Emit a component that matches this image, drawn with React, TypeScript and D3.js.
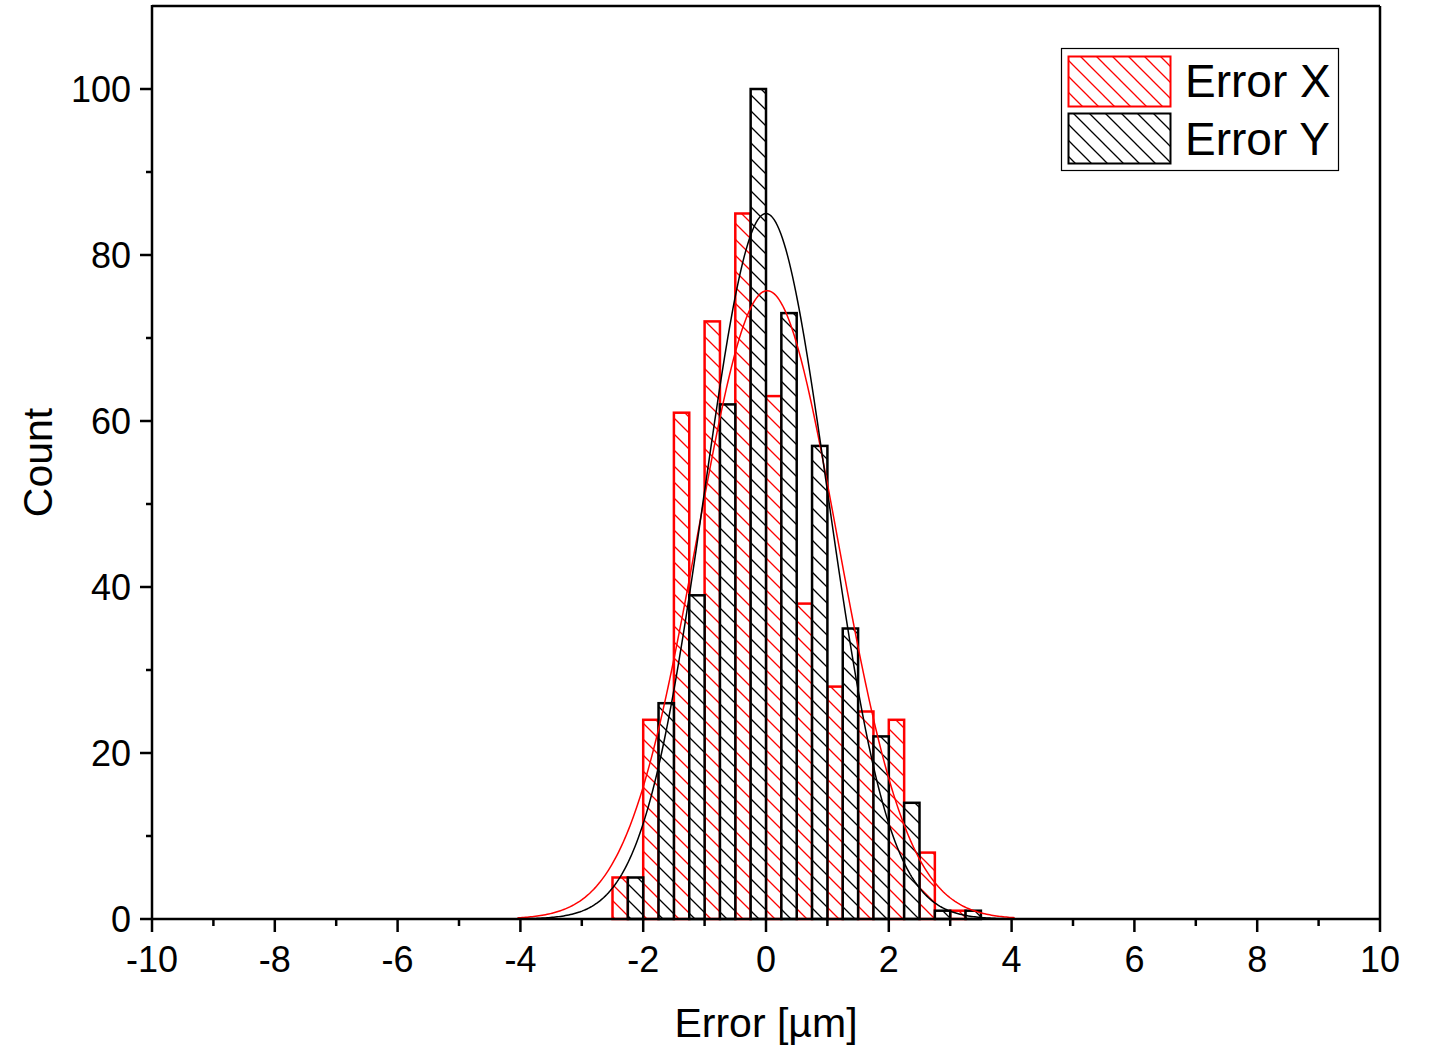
import React from "react";
import * as d3 from "d3";

// Bin centers (bin width 0.5 µm); red drawn in left half, black in right half
const binCenters = [-2.25, -1.75, -1.25, -0.75, -0.25, 0.25, 0.75, 1.25, 1.75, 2.25, 2.75, 3.25];
const countsX = [5, 24, 61, 72, 85, 63, 38, 28, 25, 24, 8, 1];
const countsY = [5, 26, 39, 62, 100, 73, 57, 35, 22, 14, 1, 1];
const binWidth = 0.5;

// Gaussian fit parameters
const fitX = { mean: 0.02, sigma: 1.144, amp: 75.7 };
const fitY = { mean: 0.0, sigma: 1.0, amp: 85 };
const fitRange = [-4.05, 4.05];

const xMajorTicks = [-10, -8, -6, -4, -2, 0, 2, 4, 6, 8, 10];
const xMinorTicks = [-9, -7, -5, -3, -1, 1, 3, 5, 7, 9];
const yMajorTicks = [0, 20, 40, 60, 80, 100];
const yMinorTicks = [10, 30, 50, 70, 90];
const legendLabels = ["Error X", "Error Y"];

const W = 1430;
const H = 1046;
const L = 152, R = 1380, T = 6, B = 919;
const FONT = "Arial, 'Liberation Sans', sans-serif";

export default function App() {
  const x = d3.scaleLinear().domain([-10, 10]).range([L, R]);
  const y = d3.scaleLinear().domain([0, 110]).range([B, T]);

  const gauss = (p: { mean: number; sigma: number; amp: number }) => {
    const n = 300;
    const pts: [number, number][] = [];
    for (let i = 0; i <= n; i++) {
      const v = fitRange[0] + ((fitRange[1] - fitRange[0]) * i) / n;
      pts.push([v, p.amp * Math.exp(-((v - p.mean) ** 2) / (2 * p.sigma * p.sigma))]);
    }
    return d3.line<[number, number]>().x((d) => x(d[0])).y((d) => y(d[1]))(pts) || "";
  };

  const hatchPath = "M0,0 L16,16 M-4,12 L4,20 M12,-4 L20,4";

  return (
    <svg width={W} height={H} style={{ position: "absolute", left: 0, top: 0, background: "#fff" }}>
      <defs>
        <pattern id="hatchRed" patternUnits="userSpaceOnUse" width={16} height={16}>
          <rect width={16} height={16} fill="#fff" />
          <path d={hatchPath} stroke="#ff0000" strokeWidth={1.3} />
        </pattern>
        <pattern id="hatchBlack" patternUnits="userSpaceOnUse" width={16} height={16}>
          <rect width={16} height={16} fill="#fff" />
          <path d={hatchPath} stroke="#000" strokeWidth={1.3} />
        </pattern>
      </defs>

      {/* Red bars */}
      {binCenters.map((c, i) => (
        <rect
          key={"r" + i}
          x={x(c - binWidth / 2)}
          y={y(countsX[i])}
          width={x(c) - x(c - binWidth / 2)}
          height={y(0) - y(countsX[i])}
          fill="url(#hatchRed)"
          stroke="#ff0000"
          strokeWidth={2.5}
        />
      ))}
      {/* Black bars */}
      {binCenters.map((c, i) => (
        <rect
          key={"b" + i}
          x={x(c)}
          y={y(countsY[i])}
          width={x(c + binWidth / 2) - x(c)}
          height={y(0) - y(countsY[i])}
          fill="url(#hatchBlack)"
          stroke="#000"
          strokeWidth={2.5}
        />
      ))}

      {/* Fit curves */}
      <path d={gauss(fitX)} fill="none" stroke="#ff0000" strokeWidth={1.5} />
      <path d={gauss(fitY)} fill="none" stroke="#000" strokeWidth={1.5} />

      {/* Frame */}
      <line x1={L} x2={R} y1={T} y2={T} stroke="#000" strokeWidth={2.5} />
      <line x1={R} x2={R} y1={T} y2={B} stroke="#000" strokeWidth={2.5} />
      <line x1={L} x2={L} y1={T - 1} y2={B} stroke="#000" strokeWidth={2.5} />
      <line x1={L - 1} x2={R + 1} y1={B} y2={B} stroke="#000" strokeWidth={2.5} />

      {/* X ticks */}
      {xMajorTicks.map((t) => (
        <g key={"xm" + t}>
          <line x1={x(t)} x2={x(t)} y1={B} y2={B + 13} stroke="#000" strokeWidth={2.5} />
          <text x={x(t)} y={972} textAnchor="middle" fontFamily={FONT} fontSize={36}>
            {t}
          </text>
        </g>
      ))}
      {xMinorTicks.map((t) => (
        <line key={"xn" + t} x1={x(t)} x2={x(t)} y1={B} y2={B + 7} stroke="#000" strokeWidth={2.5} />
      ))}

      {/* Y ticks */}
      {yMajorTicks.map((t) => (
        <g key={"ym" + t}>
          <line x1={L - 12} x2={L} y1={y(t)} y2={y(t)} stroke="#000" strokeWidth={2.5} />
          <text x={131} y={y(t) + 13} textAnchor="end" fontFamily={FONT} fontSize={36}>
            {t}
          </text>
        </g>
      ))}
      {yMinorTicks.map((t) => (
        <line key={"yn" + t} x1={L - 6} x2={L} y1={y(t)} y2={y(t)} stroke="#000" strokeWidth={2.5} />
      ))}

      {/* Axis titles */}
      <text x={766} y={1037} textAnchor="middle" fontFamily={FONT} fontSize={41}>
        Error [µm]
      </text>
      <text
        transform={`translate(52,${(T + B) / 2}) rotate(-90)`}
        textAnchor="middle"
        fontFamily={FONT}
        fontSize={41}
      >
        Count
      </text>

      {/* Legend */}
      <rect x={1061.5} y={48.5} width={277} height={122} fill="#fff" stroke="#000" strokeWidth={1.2} />
      <rect x={1068.5} y={56.5} width={102} height={50} fill="url(#hatchRed)" stroke="#ff0000" strokeWidth={2} />
      <rect x={1068.5} y={113.5} width={102} height={50} fill="url(#hatchBlack)" stroke="#000" strokeWidth={2} />
      <text x={1185} y={97} fontFamily={FONT} fontSize={46}>
        {legendLabels[0]}
      </text>
      <text x={1185} y={155} fontFamily={FONT} fontSize={46}>
        {legendLabels[1]}
      </text>
    </svg>
  );
}
